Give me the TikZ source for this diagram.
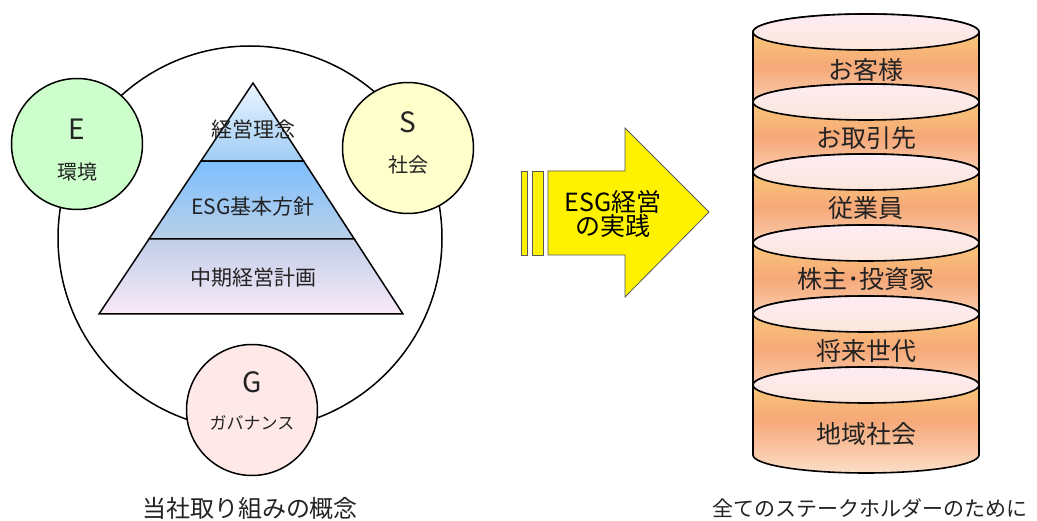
\documentclass[tikz,border=0pt]{standalone}
\usepackage{fontspec}
\setmainfont{Noto Sans CJK JP}
\usetikzlibrary{calc}

\definecolor{txt}{RGB}{35,35,35}
\definecolor{envgreen}{RGB}{204,255,204}
\definecolor{socyellow}{RGB}{255,255,204}
\definecolor{govpink}{RGB}{255,232,232}

\begin{document}
\begin{tikzpicture}[x=1pt,y=-1pt,
  every node/.style={text=txt,inner sep=0pt},
  esg/.style={circle,draw,line width=1.5pt,minimum size=131pt},
  letter/.style={font=\fontsize{28}{28}\selectfont},
  small/.style={font=\fontsize{20}{20}\selectfont},
  layer/.style={font=\fontsize{21}{21}\selectfont},
  stake/.style={font=\fontsize{25}{25}\selectfont},
  caption/.style={font=\fontsize{24}{24}\selectfont},
  band/.style={draw,line width=1.6pt,top color={rgb,255:red,250;green,215;blue,120},
    bottom color={rgb,255:red,251;green,222;blue,200},middle color={rgb,255:red,246;green,168;blue,120}},
  lid/.style={draw,line width=1.6pt,top color={rgb,255:red,253;green,236;blue,244},
    bottom color={rgb,255:red,252;green,230;blue,218}}]
  \useasboundingbox (0,0) rectangle (1037,521);

  % concept circle
  \draw[line width=1.5pt,fill=white] (250,238) circle[radius=192];

  % pyramid
  \coordinate (apex) at (253,83);
  \coordinate (bl) at (99,314);
  \coordinate (br) at (403,314);
  \coordinate (l1) at ($(apex)!0.338!(bl)$);
  \coordinate (r1) at ($(apex)!0.338!(br)$);
  \coordinate (l2) at ($(apex)!0.675!(bl)$);
  \coordinate (r2) at ($(apex)!0.675!(br)$);
  \shadedraw[line width=1.5pt,top color={rgb,255:red,235;green,245;blue,255},bottom color={rgb,255:red,160;green,205;blue,245}]
    (apex) -- (r1) -- (l1) -- cycle;
  \shadedraw[line width=1.5pt,top color={rgb,255:red,125;green,190;blue,255},bottom color={rgb,255:red,185;green,208;blue,232}]
    (l1) -- (r1) -- (r2) -- (l2) -- cycle;
  \shadedraw[line width=1.5pt,top color={rgb,255:red,192;green,207;blue,232},bottom color={rgb,255:red,250;green,232;blue,248}]
    (l2) -- (r2) -- (br) -- (bl) -- cycle;
  \node[layer] (philosophy) at (253,130) {経営理念};
  \node[layer] (policy) at (253,207) {ESG基本方針};
  \node[layer] (plan) at (253,278) {中期経営計画};

  % E, S, G
  \node[esg,fill=envgreen] (E) at (77,144) {};
  \node[letter] (Eletter) at (77,129) {E};
  \node[small] (Etext) at (77,172) {環境};
  \node[esg,fill=socyellow] (S) at (408,148) {};
  \node[letter] (Sletter) at (408,122) {S};
  \node[small] (Stext) at (408,165) {社会};
  \node[esg,fill=govpink] (G) at (252,410) {};
  \node[letter] (Gletter) at (252,382) {G};
  \node[font=\fontsize{17}{17}\selectfont] (Gtext) at (252,423) {ガバナンス};

  % arrow
  \filldraw[fill=yellow,draw=black!65,line width=0.8pt] (521,171) rectangle (527,255);
  \filldraw[fill=yellow,draw=black!65,line width=0.8pt] (532,171) rectangle (543,255);
  \filldraw[fill=yellow,draw=black!65,line width=0.8pt]
    (548,171) -- (625,171) -- (625,128) -- (709,212) -- (625,297) -- (625,255) -- (548,255) -- cycle;
  \node[align=center,font=\fontsize{25}{24}\selectfont,text=black] (practice) at (613,214) {ESG経営\\の実践};

  % stakeholders
  \foreach \ya/\yb/\ly/\name [count=\i] in {32/102/70/お客様,102/172/138/お取引先,172/243/208/従業員,
      243/314/279/株主･投資家,314/385/351/将来世代,385/455/434/地域社会}{
    \shadedraw[band] (753,\ya) -- (753,\yb) arc[start angle=180,delta angle=-180,x radius=113,y radius=18]
      -- (979,\ya) arc[start angle=0,delta angle=-180,x radius=113,y radius=18] -- cycle;
    \shadedraw[lid] (866,\ya) ellipse[x radius=113,y radius=18];
    \node[stake] (st\i) at (866,\ly) {\name};
  }

  \node[caption] (concept) at (250,508) {当社取り組みの概念};
  \node[caption,font=\fontsize{21}{21}\selectfont] (forall) at (870,508) {全てのステークホルダーのために};
\end{tikzpicture}
\end{document}
